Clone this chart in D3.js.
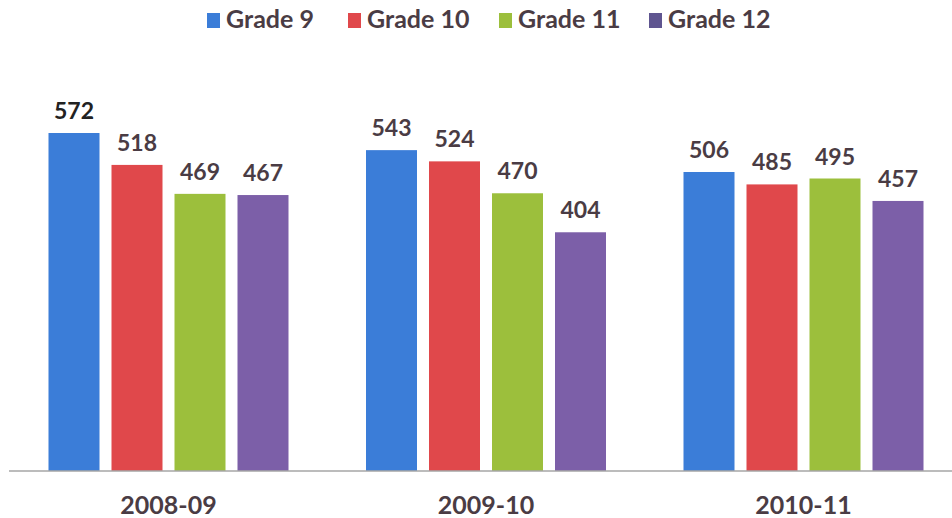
<!DOCTYPE html>
<html><head><meta charset="utf-8">
<script src="https://cdn.jsdelivr.net/npm/d3@7"></script>
<style>body{margin:0;background:#fff}svg{display:block}</style>
</head><body><svg id="c" width="952" height="518"></svg>
<script>
const years = ["2008-09", "2009-10", "2010-11"];
const grades = ["Grade 9", "Grade 10", "Grade 11", "Grade 12"];
const grade9 = [572, 543, 506];
const grade10 = [518, 524, 485];
const grade11 = [469, 470, 495];
const grade12 = [467, 404, 457];
const colors = ["#3b7dd8", "#e0484b", "#9cbf3c", "#7c5fa8"];
const legendColors = ["#3b7dd8", "#e0484b", "#9cbf3c", "#5f5590"];

const series = [grade9, grade10, grade11, grade12];
const svg = d3.select("#c");
const font = "Lato, 'Open Sans', sans-serif";
const textCol = "#4a3c44";

const x0 = d3.scaleBand().domain(years).range([9.75, 962.25]).padding(0);
const x1 = d3.scaleBand().domain(grades).range([38.75, 278.75]).paddingInner(12/63).paddingOuter(0);
const y = d3.scaleLinear().domain([0, 572]).range([471, 133]);

const g = svg.append("g");
years.forEach((yr, i) => {
  const grp = g.append("g").attr("transform", `translate(${x0(yr)},0)`);
  grades.forEach((gr, j) => {
    const v = series[j][i];
    grp.append("rect").attr("x", x1(gr)).attr("y", y(v))
      .attr("width", x1.bandwidth()).attr("height", y(0) - y(v))
      .attr("fill", colors[j]);
    grp.append("text").attr("x", x1(gr) + x1.bandwidth()/2).attr("y", y(v) - 14)
      .attr("text-anchor", "middle").attr("font-family", font).attr("font-weight", "bold")
      .attr("font-size", 23).attr("fill", (i===0 && j===0) ? "#222" : textCol).text(v);
  });
});

const axis = svg.append("g").attr("transform", `translate(0,${y(0)})`)
  .call(d3.axisBottom(x0).tickSize(0).tickPadding(25));
axis.select(".domain").attr("stroke", "#a6a6a6").attr("stroke-width", 1.5).attr("d", "M9,0H952");
axis.selectAll("text").attr("font-family", font).attr("font-weight", "bold")
  .attr("font-size", 25).attr("fill", textCol);

const leg = svg.append("g");
const legX = [207, 348, 499, 649];
grades.forEach((gr, j) => {
  leg.append("rect").attr("x", legX[j]).attr("y", 13).attr("width", 13).attr("height", 15).attr("fill", legendColors[j]);
  leg.append("text").attr("x", legX[j] + 19).attr("y", 28).attr("font-family", font)
    .attr("font-weight", "bold").attr("font-size", 25).attr("fill", textCol).text(gr);
});
</script></body></html>
